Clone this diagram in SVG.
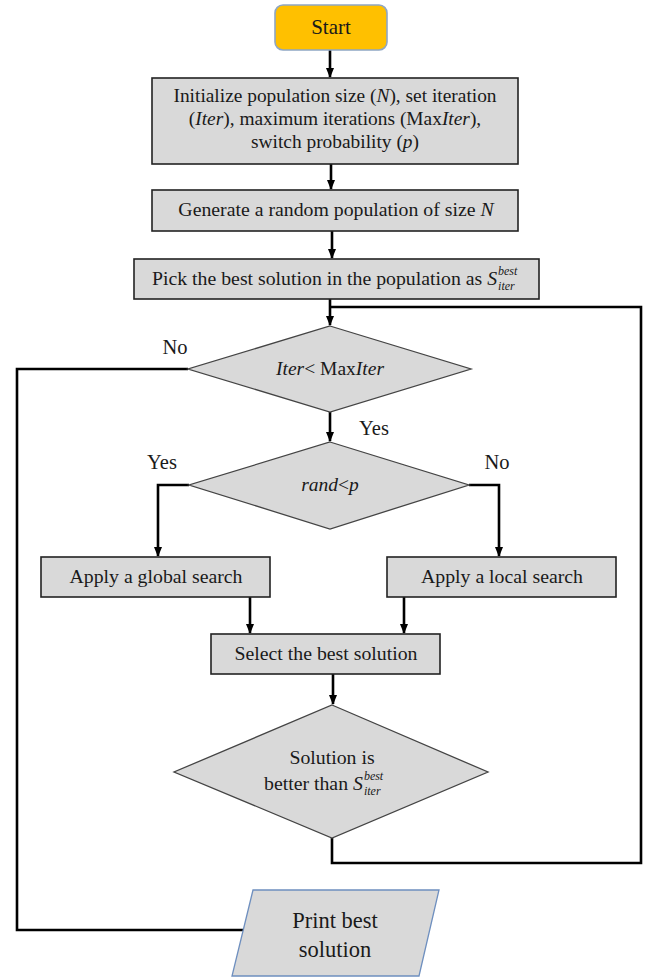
<svg xmlns="http://www.w3.org/2000/svg" width="646" height="979" viewBox="0 0 646 979">
<style>
.box{fill:#D9D9D9;stroke:#222;stroke-width:1.6}
.dia{fill:#D9D9D9;stroke:#444;stroke-width:1.3}
text{font-family:'Liberation Serif','DejaVu Serif',serif;font-size:19.8px;fill:#1a1a1a}
.c{text-anchor:middle}
.i{font-style:italic}
.sm{font-size:12px;font-style:italic}
.ln{fill:none;stroke:#000;stroke-width:2.6}
</style>
<defs>
<marker id="ah" markerWidth="10" markerHeight="10" refX="9" refY="5" orient="auto" markerUnits="userSpaceOnUse">
<path d="M0,1 L10,5 L0,9 Z" fill="#000"/>
</marker>
</defs>
<rect width="646" height="979" fill="#fff"/>

<g id="connectors">
<path class="ln" d="M330,50 V77" marker-end="url(#ah)"/>
<path class="ln" d="M331,164 V189" marker-end="url(#ah)"/>
<path class="ln" d="M332,231 V258" marker-end="url(#ah)"/>
<path class="ln" d="M330,299 V325" marker-end="url(#ah)"/>
<path class="ln" d="M330,412 V441" marker-end="url(#ah)"/>
<path class="ln" d="M188,369 H17 V930 H244"/>
<path class="ln" d="M189,485 H158 V556" marker-end="url(#ah)"/>
<path class="ln" d="M469,485 H499 V556" marker-end="url(#ah)"/>
<path class="ln" d="M250,597 V633" marker-end="url(#ah)"/>
<path class="ln" d="M404,597 V633" marker-end="url(#ah)"/>
<path class="ln" d="M333,674 V704" marker-end="url(#ah)"/>
<path class="ln" d="M332,838 V863 H641 V307 H330"/>
</g>

<g id="start">
<rect x="275" y="5" width="112" height="45" rx="8" fill="#FFC000" stroke="#8EA6C4" stroke-width="1.6"/>
<text class="c" x="331" y="34" style="font-size:21px">Start</text>
</g>

<g id="init">
<rect class="box" x="152" y="78" width="366" height="86"/>
<text class="c" x="335" y="102" style="font-size:19.4px">Initialize population size (<tspan class="i">N</tspan>), set iteration</text>
<text class="c" x="335" y="125" style="font-size:19.4px">(<tspan class="i">Iter</tspan>), maximum iterations (Max<tspan class="i">Iter</tspan>),</text>
<text class="c" x="335" y="148" style="font-size:19.4px">switch probability (<tspan class="i">p</tspan>)</text>
</g>

<g id="generate">
<rect class="box" x="152" y="190" width="366" height="41"/>
<text class="c" x="336" y="216">Generate a random population of size <tspan class="i">N</tspan></text>
</g>

<g id="pick">
<rect class="box" x="134" y="259" width="405" height="40"/>
<text x="152" y="285">Pick the best solution in the population as <tspan class="i">S</tspan><tspan class="sm" dx="1" dy="-10">best</tspan><tspan class="sm" dx="-19.3" dy="15">iter</tspan></text>
</g>

<g id="cond1">
<polygon class="dia" points="330,326 471,369 330,412 188,369"/>
<text class="c" x="330" y="375" style="font-size:19.5px"><tspan class="i">Iter</tspan>&lt; Max<tspan class="i">Iter</tspan></text>
</g>

<g id="cond2">
<polygon class="dia" points="330,442 469,485 330,529 189,485"/>
<text class="c" x="330" y="491" style="font-size:19.5px"><tspan class="i">rand</tspan>&lt;<tspan class="i">p</tspan></text>
</g>

<g id="labels">
<text class="c" x="175" y="354" style="font-size:20.5px">No</text>
<text class="c" x="374" y="435" style="font-size:20.5px">Yes</text>
<text class="c" x="162" y="469" style="font-size:20.5px">Yes</text>
<text class="c" x="497" y="469" style="font-size:20.5px">No</text>
</g>

<g id="global">
<rect class="box" x="41" y="557" width="229" height="40"/>
<text class="c" x="156" y="583">Apply a global search</text>
</g>

<g id="local">
<rect class="box" x="387" y="557" width="229" height="40"/>
<text class="c" x="502" y="583">Apply a local search</text>
</g>

<g id="select">
<rect class="box" x="211" y="634" width="229" height="40"/>
<text class="c" x="326" y="660">Select the best solution</text>
</g>

<g id="cond3">
<polygon class="dia" points="332,705 488,772 332,838 174,772"/>
<text class="c" x="332" y="764">Solution is</text>
<text x="264" y="790">better than <tspan class="i">S</tspan><tspan class="sm" dx="1" dy="-10">best</tspan><tspan class="sm" dx="-19.3" dy="15">iter</tspan></text>
</g>

<g id="print">
<polygon points="253,890 439,890 419,976 232,976" fill="#D9D9D9" stroke="#6E8FBF" stroke-width="1.3"/>
<text class="c" x="335" y="928" style="font-size:22.5px">Print best</text>
<text class="c" x="335" y="957" style="font-size:22.5px">solution</text>
</g>
</svg>
